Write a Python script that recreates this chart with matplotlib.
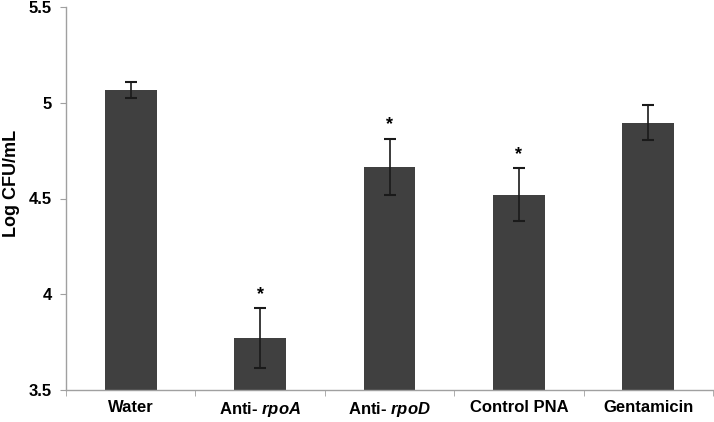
import matplotlib
matplotlib.use("Agg")
import matplotlib.pyplot as plt
import numpy as np

plt.rcParams['font.family'] = ['Liberation Sans', 'DejaVu Sans']
plt.rcParams['mathtext.fontset'] = 'custom'
plt.rcParams['mathtext.it'] = 'Liberation Sans:italic:bold'
plt.rcParams['mathtext.rm'] = 'Liberation Sans:bold'

categories = ["Water", r"Anti- $\mathit{rpoA}$", r"Anti- $\mathit{rpoD}$", "Control PNA", "Gentamicin"]
values = [5.065, 3.77, 4.665, 4.52, 4.895]
errors = [0.042, 0.157, 0.148, 0.137, 0.092]
significant = [False, True, True, True, False]
yticks = [3.5, 4, 4.5, 5, 5.5]
ytick_labels = ["3.5", "4", "4.5", "5", "5.5"]

fig = plt.figure(figsize=(7.14, 4.22), dpi=100)
ax = fig.add_axes([66/714, 1-390/422, (713-66)/714, (390-7)/422])

x = np.arange(len(categories))
ax.bar(x, values, width=0.4, color="#404040", bottom=0, zorder=2)
ax.errorbar(x, values, yerr=errors, fmt="none", ecolor="#1a1a1a",
            elinewidth=1.2, capsize=4, capthick=1.5, zorder=3)
for xi, v, e, s in zip(x, values, errors, significant):
    if s:
        ax.annotate("*", (xi, v + e), xytext=(0, 4), textcoords="offset points",
                    ha="center", va="bottom", fontsize=13, fontweight="bold")

ax.set_ylim(3.5, 5.5)
ax.set_xlim(-0.5, len(categories) - 0.5)
ax.set_yticks(yticks)
ax.set_yticklabels(ytick_labels, fontsize=12, fontweight="bold")
ax.set_xticks(x)
ax.set_xticklabels(categories, fontsize=12, fontweight="bold")
ax.tick_params(axis="x", which="major", length=0, pad=7)
ax.set_xticks(np.arange(-0.5, len(categories), 1.0), minor=True)
ax.tick_params(axis="x", which="minor", length=4, color="#a0a0a0", direction="out")
ax.tick_params(axis="y", length=4, color="#a0a0a0", pad=6)

for side in ["top", "right"]:
    ax.spines[side].set_visible(False)
for side in ["left", "bottom"]:
    ax.spines[side].set_color("#a0a0a0")
    ax.spines[side].set_linewidth(1.0)

ax.set_ylabel("Log CFU/mL", fontsize=13, fontweight="bold")
ax.yaxis.set_label_coords(-0.071, 0.54)

fig.savefig("out.png", dpi=100)
